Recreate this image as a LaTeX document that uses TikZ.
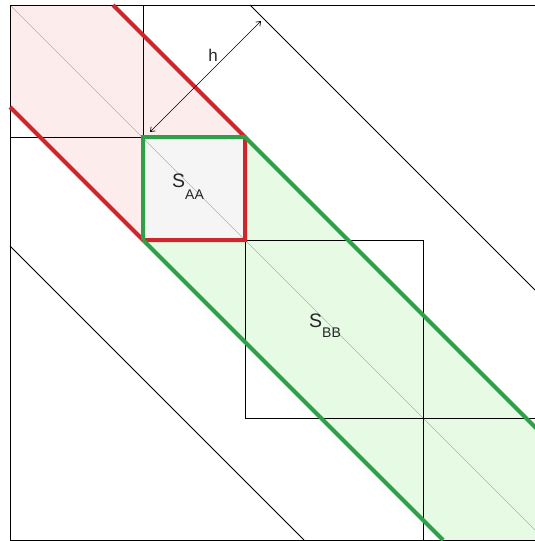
\documentclass[tikz,border=0pt]{standalone}
\usepackage{fontspec}
\setmainfont{Liberation Sans}
\usetikzlibrary{arrows.meta}
\definecolor{bandred}{RGB}{205,38,44}
\definecolor{bandgreen}{RGB}{46,160,72}
\definecolor{fillred}{RGB}{253,236,236}
\definecolor{fillgreen}{RGB}{230,250,228}
\definecolor{fillgray}{RGB}{245,245,245}
\newcommand\blocksub[2]{\raisebox{#1}{\fontsize{14}{14}\selectfont #2}}

\begin{document}
\begin{tikzpicture}[
    x=1pt, y=-1pt,
    thinline/.style={draw=black, line width=0.8pt},
    redline/.style={draw=bandred, line width=4pt},
    greenline/.style={draw=bandgreen, line width=4pt},
    dimline/.style={draw=black, line width=0.7pt, {Straight Barb[length=4pt,width=6pt]}-{Straight Barb[length=4pt,width=6pt]}},
    blocklabel/.style={inner sep=0pt, anchor=base west, text=black!85, font=\fontsize{19.5}{20}\selectfont}
  ]
    \useasboundingbox (0,0) rectangle (535,541);
    \clip (0,0) rectangle (535,541);
    % band fills
    \fill[fillred] (113,5) -- (245,137) -- (245,240) -- (143,240) -- (10,107) -- (10,5) -- cycle;
    \fill[fillgreen] (245,137) -- (545,437) -- (545,540) -- (443,540) -- (143,240) -- (245,240) -- cycle;
    \fill[fillgray] (143,137) rectangle (245,240);
    % diagonal
    \draw[black!30, line width=0.6pt] (10,5) -- (545,540);
    % blocks
    \draw[thinline] (10,5) rectangle (545,540);
    \draw[thinline] (143,5) -- (143,137) -- (10,137);
    \draw[thinline] (245,240) rectangle (423,418);
    \draw[thinline] (423,418) -- (423,540);
    \draw[thinline] (423,418) -- (545,418);
    % outer lines
    \draw[thinline] (250,5) -- (545,300);
    \draw[thinline] (10,246) -- (304,540);
    % bands
    \draw[redline] (10,107) -- (143,240) -- (245,240) -- (245,137) -- (113,5);
    \draw[greenline] (143,240) -- (143,137) -- (245,137) -- (545,437);
    \draw[greenline] (143,240) -- (443,540);
    % width h
    \coordinate (hbase) at (150,132);
    \coordinate (htip) at (261,21);
    \draw[dimline] (hbase) -- (htip);
    \node[text=black!85, font=\fontsize{17}{17}\selectfont] (h) at (213,55) {h};
    % labels
    \node[blocklabel] (saa) at (172,187) {S\blocksub{-12pt}{AA}};
    \node[blocklabel] (sbb) at (309,327) {S\blocksub{-10pt}{BB}};
  \end{tikzpicture}
\end{document}
